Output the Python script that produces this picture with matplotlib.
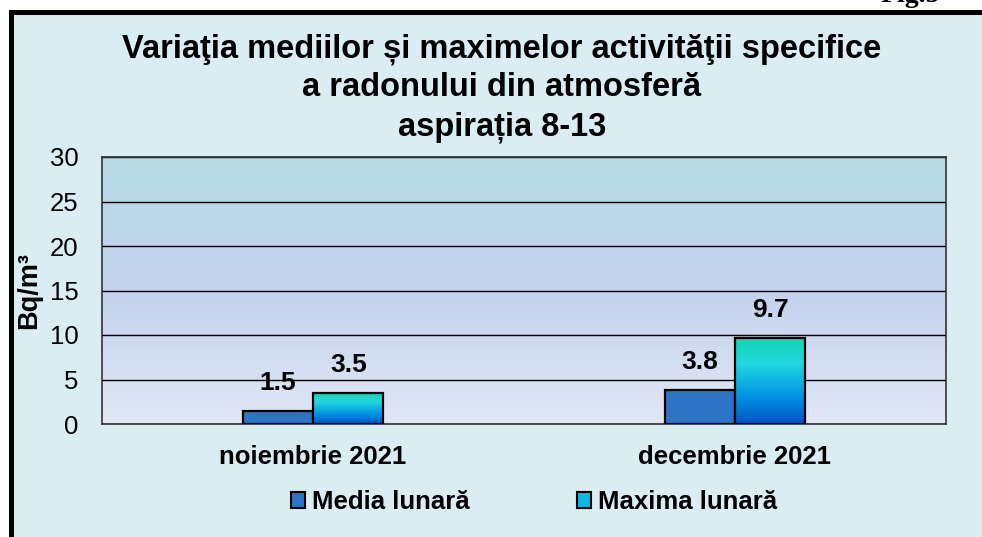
import numpy as np
import matplotlib
matplotlib.use("Agg")
import matplotlib.pyplot as plt
from matplotlib.patches import Rectangle, Patch
from matplotlib.colors import LinearSegmentedColormap

plt.rcParams['font.family'] = ['Liberation Sans', 'DejaVu Sans']

categories = ["noiembrie 2021", "decembrie 2021"]
media = [1.5, 3.8]
maxima = [3.5, 9.7]
series_names = ["Media lunară", "Maxima lunară"]
title = "Variaţia mediilor și maximelor activităţii specifice\na radonului din atmosferă\naspirația 8-13"
ylabel = "Bq/m³"
yticks = [0, 5, 10, 15, 20, 25, 30]

BG = "#DAEDF3"
MEDIA_C = "#2E74C4"

fig = plt.figure(figsize=(9.82, 5.37), dpi=100, facecolor="white")
W, H = 982, 537

# outer frame (cut at right and bottom)
frame = Rectangle((10.5 / W, -0.05), 1.1, 1 - 11.5 / H + 0.05,
                  transform=fig.transFigure, facecolor=BG, edgecolor="black",
                  linewidth=3.6, zorder=-5)
fig.patches.append(frame)

fig.text(940 / W, 1 - 2.5 / H, "Fig.5", ha="right", va="baseline",
         fontsize=20, fontweight="bold", family=["Liberation Serif", "DejaVu Serif"])

ax = fig.add_axes([102 / W, 1 - 424 / H, (946 - 102) / W, (424 - 157) / H])
ax.set_facecolor("none")

# plot-area gradient
cmap_bg = LinearSegmentedColormap.from_list("bg", ["#E1E7F5", "#C4D2EE", "#B4DCE6"])
grad = np.linspace(0, 1, 256).reshape(-1, 1)
ax.imshow(grad, extent=[0, 1, 0, 1], transform=ax.transAxes, origin="lower",
          cmap=cmap_bg, aspect="auto", zorder=0)

x = np.arange(len(categories))
w = 0.167
b1 = ax.bar(x - w / 2, media, w, color=MEDIA_C, edgecolor="black", linewidth=1.6, zorder=3)
b2 = ax.bar(x + w / 2, maxima, w, color="none", edgecolor="black", linewidth=1.6, zorder=4)

cmap_bar = LinearSegmentedColormap.from_list(
    "bar", [(0, "#0052C0"), (0.3, "#0090E4"), (0.7, "#22D8E0"), (1.0, "#10D6AE")])
for p in b2:
    x0, y0 = p.get_x(), p.get_y()
    x1, y1 = x0 + p.get_width(), y0 + p.get_height()
    im = ax.imshow(grad, extent=[x0, x1, y0, y1], origin="lower", cmap=cmap_bar,
                   aspect="auto", zorder=3)
    im.set_clip_path(p)

for bars, vals in ((b1, media), (b2, maxima)):
    for p, v in zip(bars, vals):
        ax.annotate(f"{v:.1f}", (p.get_x() + p.get_width() / 2, p.get_height()),
                    xytext=(0, 20), textcoords="offset points", ha="center",
                    va="center", fontsize=19, fontweight="bold", zorder=5)

ax.set_xlim(-0.5, 1.5)
ax.set_ylim(0, 30)
ax.set_yticks(yticks)
ax.set_yticklabels([str(t) for t in yticks], fontsize=18.5)
ax.set_xticks(x)
ax.set_xticklabels(categories, fontsize=18.5, fontweight="bold")
ax.tick_params(axis="y", length=0, pad=17)
ax.tick_params(axis="x", length=0, pad=15)
ax.yaxis.grid(True, color="black", linewidth=1.0, zorder=1)
ax.set_axisbelow(True)
for s in ax.spines.values():
    s.set_color("#333333")
    s.set_linewidth(1.2)

ax.set_ylabel(ylabel, fontsize=19.5, fontweight="bold")
ax.yaxis.set_label_coords(-0.071, 0.5)

fig.text(502 / W, 1 - 88 / H, title, ha="center", va="center", fontsize=23.5,
         fontweight="bold", linespacing=1.32)

handles = [Patch(facecolor=MEDIA_C, edgecolor="black", linewidth=1.5),
           Patch(facecolor="#10B8E0", edgecolor="black", linewidth=1.5)]
leg = fig.legend(handles, series_names, loc="center", bbox_to_anchor=(534 / W, 1 - 502 / H),
                 ncol=2, frameon=False, handlelength=0.55, handleheight=0.55,
                 handletextpad=0.27, columnspacing=4.2,
                 prop={"size": 18.5, "weight": "bold"})

fig.savefig("out.png", dpi=100, facecolor=fig.get_facecolor())
